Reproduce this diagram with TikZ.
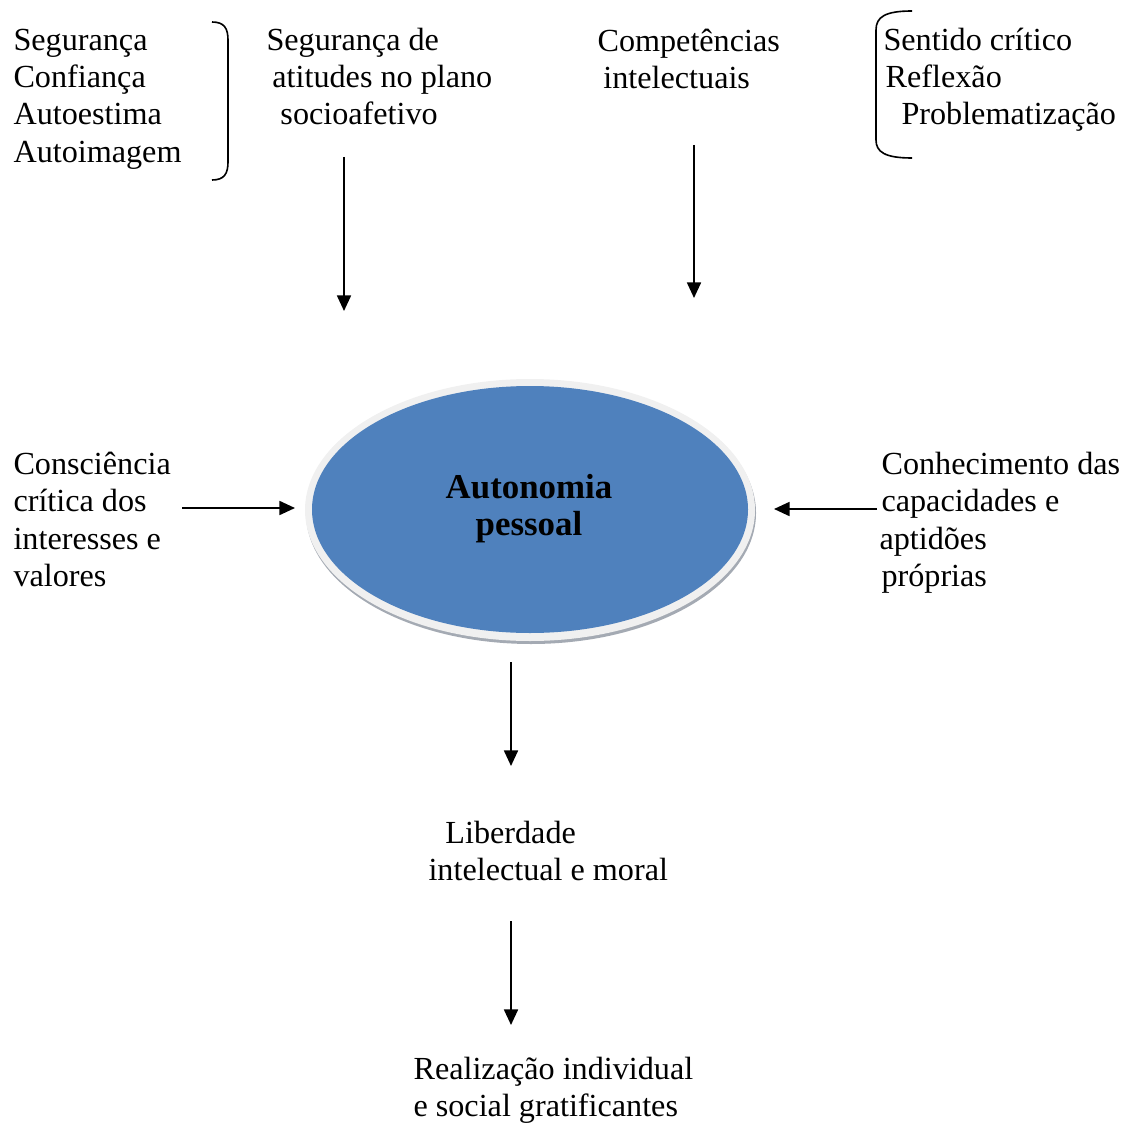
\documentclass[tikz,border=0pt]{standalone}
\usepackage{fontspec}
\setmainfont{Liberation Serif}
\usetikzlibrary{arrows.meta}
\definecolor{ellblue}{HTML}{4F81BD}
\definecolor{ringgray}{HTML}{F0F0F0}
\definecolor{shadowgray}{HTML}{A4AAB3}
\tikzset{
  txt/.style={anchor=base west, inner sep=0pt, align=left, font=\fontsize{12}{13.8}\selectfont},
  arr/.style={line width=0.7pt, -{Triangle[length=5.8pt,width=5.2pt]}},
  brk/.style={line width=0.6pt},
}
\begin{document}
\begin{tikzpicture}[x=0.01311cm, y=-0.01311cm]
\useasboundingbox (0,0) rectangle (1124,1124);
% top-left list and bracket (anchor = baseline of last line)
\node[txt] (list1) at (13,162) {Segurança\\Confiança\\Autoestima\\Autoimagem};
\draw[brk] (212,22) .. controls (224,22) and (228,28) .. (228,40) -- (228,162) .. controls (228,174) and (224,180) .. (212,180);
% top middle-left
\node[txt] (seg) at (266,125) {Segurança de\\\hspace*{2.2pt}atitudes no plano\\\hspace*{5.2pt}socioafetivo};
% top middle-right
\node[txt] (comp) at (597,89) {Competências\\\hspace*{2.2pt}intelectuais};
% top-right bracket and list
\draw[brk] (912,11) .. controls (885,11) and (876,17) .. (876,30) -- (876,140) .. controls (876,152) and (885,158) .. (912,158);
\node[txt] (list2) at (883,125) {Sentido crítico\\\hspace*{0.8pt}Reflexão\\\hspace*{6.7pt}Problematização};
% ellipse
\fill[shadowgray] (531,513) ellipse [x radius=225, y radius=131];
\fill[ringgray] (530,510) ellipse [x radius=225, y radius=131];
\fill[ellblue] (530,509.5) ellipse [x radius=218, y radius=123.5];
\node[inner sep=0pt, align=center, font=\fontsize{13}{13.8}\selectfont\bfseries] (auto) at (529,509) {Autonomia\\pessoal};
% side texts
\node[txt] (consc) at (13,586) {Consciência\\crítica dos\\interesses e\\valores};
\node[txt] (conh) at (881,586) {Conhecimento das\\capacidades e\\\hspace*{-0.75pt}aptidões\\próprias};
% bottom texts
\node[txt] (lib) at (428,880) {\hspace*{6.3pt}Liberdade\\intelectual e moral};
\node[txt] (real) at (413,1116) {Realização individual\\e social gratificantes};
% arrow end points
\coordinate (a1s) at (344,157); \coordinate (a1e) at (344,311);
\coordinate (a2s) at (694,145); \coordinate (a2e) at (694,298);
\coordinate (a3s) at (182,508); \coordinate (a3e) at (295,508);
\coordinate (a4s) at (877,509); \coordinate (a4e) at (774,509);
\coordinate (a5s) at (511,662); \coordinate (a5e) at (511,766);
\coordinate (a6s) at (511,921); \coordinate (a6e) at (511,1025);
\draw[arr] (a1s) -- (a1e);
\draw[arr] (a2s) -- (a2e);
\draw[arr] (a3s) -- (a3e);
\draw[arr] (a4s) -- (a4e);
\draw[arr] (a5s) -- (a5e);
\draw[arr] (a6s) -- (a6e);
\end{tikzpicture}
\end{document}
